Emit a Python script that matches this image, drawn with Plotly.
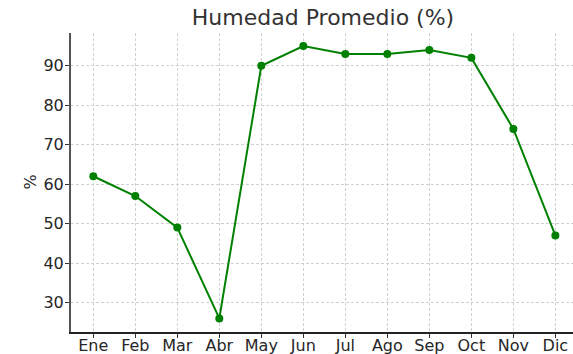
import plotly.graph_objects as go

# Monthly average humidity
meses = ["Ene", "Feb", "Mar", "Abr", "May", "Jun", "Jul", "Ago", "Sep", "Oct", "Nov", "Dic"]
humedad = [62, 57, 49, 26, 90, 95, 93, 93, 94, 92, 74, 47]
y_ticks = [30, 40, 50, 60, 70, 80, 90]

W, H = 573, 354
L, R, T, B = 71, 0, 33, 22

fig = go.Figure()
fig.add_trace(go.Scatter(
    x=list(range(len(meses))), y=humedad,
    mode="lines+markers",
    line=dict(color="#008000", width=2),
    marker=dict(color="#008000", size=8),
    hoverinfo="x+y",
))

grid = dict(showgrid=True, gridcolor="#d0d0d0", gridwidth=0.8, griddash="3px,2px")
fig.update_layout(
    width=W, height=H,
    margin=dict(l=L, r=R, t=T, b=B, autoexpand=False),
    paper_bgcolor="white", plot_bgcolor="white",
    font=dict(family="DejaVu Sans", size=16, color="#262626"),
    showlegend=False,
    title=dict(text="Humedad Promedio (%)", x=(323) / W, xanchor="center",
               y=1 - 17 / H, yanchor="middle", yref="container",
               font=dict(size=22, color="#333333")),
    xaxis=dict(range=[-0.531, 11.42], tickmode="array",
               tickvals=list(range(len(meses))), ticktext=meses,
               ticks="outside", ticklen=4, tickcolor="#333333",
               ticklabelstandoff=-6,
               showline=True, linecolor="#222222", linewidth=1.5,
               zeroline=False, automargin=False, **grid),
    yaxis=dict(range=[22.55, 98.3], tickmode="array", tickvals=y_ticks,
               ticks="outside", ticklen=4, tickcolor="#333333",
               ticklabelstandoff=-2,
               showline=True, linecolor="#555555", linewidth=2,
               zeroline=False, automargin=False, **grid),
    annotations=[dict(text="%", textangle=-90, x=(30 - L) / (W - L - R), xref="paper",
                      y=0.5, yref="paper", xanchor="center", yanchor="middle",
                      showarrow=False, font=dict(size=16, color="#262626"))],
)

fig.write_html("out.html")
